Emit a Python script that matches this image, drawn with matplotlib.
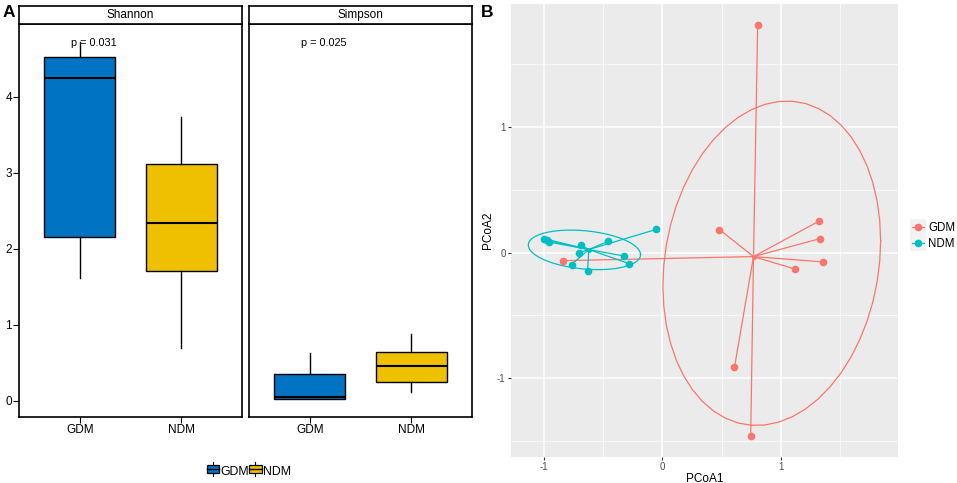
import numpy as np
import matplotlib
matplotlib.use("Agg")
from matplotlib import pyplot as plt
from matplotlib.patches import Rectangle
from matplotlib.lines import Line2D
from matplotlib.legend_handler import HandlerBase, HandlerLine2D

plt.rcParams['font.family'] = ['Liberation Sans', 'DejaVu Sans']
plt.rcParams['axes.unicode_minus'] = False

# ---- panel A data (box stats) ----
groups = ['GDM', 'NDM']
box_colors = ['#0073C2', '#EFC000']
facets = ['Shannon', 'Simpson']
p_labels = ['p = 0.031', 'p = 0.025']
p_label_y = 4.70
# each row: [whislo, q1, med, q3, whishi] for GDM, NDM
shannon_stats = [[1.61, 2.16, 4.25, 4.52, 4.72],
                 [0.70, 1.71, 2.34, 3.12, 3.73]]
simpson_stats = [[0.026, 0.026, 0.044, 0.35, 0.625],
                 [0.12, 0.245, 0.46, 0.647, 0.88]]

# ---- panel B data (PCoA coordinates) ----
pc1_gdm = [0.804, 0.482, 1.317, 1.328, 1.356, 1.115, 0.608, 0.745, -0.835]
pc2_gdm = [1.815, 0.183, 0.249, 0.111, -0.074, -0.130, -0.914, -1.46, -0.064]
pc1_ndm = [-0.997, -0.975, -0.953, -0.681, -0.457, -0.701, -0.323, -0.281, -0.765, -0.630, -0.050]
pc2_ndm = [0.111, 0.098, 0.084, 0.058, 0.090, 0.0, -0.027, -0.087, -0.095, -0.146, 0.185]
pcoa_colors = ['#F8766D', '#00BFC4']
ellipse_level = 0.75


def cov_trob(X, nu=5, maxit=25, tol=0.01):
    '''robust t covariance, same steps as MASS::cov.trob'''
    n, p = X.shape
    wt = np.ones(n)
    loc = X.mean(0)
    w = np.sqrt(wt)
    for _ in range(maxit):
        w0 = w
        Xc = X - loc
        _, d, vt = np.linalg.svd(np.sqrt(w / w.sum())[:, None] * Xc, full_matrices=False)
        wX = Xc @ vt.T @ np.diag(1 / d)
        Q = (wX ** 2).sum(1)
        w = wt * (nu + p) / (nu + Q)
        loc = (w[:, None] * X).sum(0) / w.sum()
        if np.all(np.abs(w - w0) < tol):
            break
    sX = np.sqrt(w)[:, None] * Xc
    return loc, sX.T @ sX / wt.sum()


def ellipse_pts(x, y, level=0.95, segments=51):
    X = np.column_stack([x, y])
    center, shape = cov_trob(X)
    dfd = len(x) - 1
    qf = dfd / 2 * ((1 - level) ** (-2 / dfd) - 1)  # F(2, dfd) quantile
    radius = np.sqrt(2 * qf)
    t = np.linspace(0, 2 * np.pi, segments)
    circ = np.column_stack([np.cos(t), np.sin(t)])
    R = np.linalg.cholesky(shape).T
    return center + radius * circ @ R


class BoxHandler(HandlerBase):
    def create_artists(self, legend, orig, xd, yd, width, height, fontsize, trans):
        wl = Line2D([xd + width / 2] * 2, [yd - 0.2 * height, yd + 1.2 * height],
                    color='black', lw=0.8, transform=trans)
        r = Rectangle((xd, yd + 0.1 * height), width, 0.8 * height,
                      fc=orig.get_facecolor(), ec='black', lw=0.9, transform=trans)
        m = Line2D([xd, xd + width], [yd + 0.5 * height] * 2, color='black', lw=1.0, transform=trans)
        return [wl, r, m]


class KeyHandler(HandlerLine2D):
    def create_artists(self, legend, orig, xd, yd, width, height, fontsize, trans):
        bg = Rectangle((xd - 1, yd - 3), width + 2, height + 6, fc='#F2F2F2', ec='none', transform=trans)
        return [bg] + super().create_artists(legend, orig, xd, yd, width, height, fontsize, trans)


fig = plt.figure(figsize=(9.57, 4.83), dpi=100)

# ---------------- panel A ----------------
all_vals = np.array(shannon_stats + simpson_stats).ravel()
lo, hi = min(all_vals.min(), p_label_y), max(all_vals.max(), p_label_y)
pad = 0.05 * (hi - lo)

lefts = [0.0199, 0.2602]
for i, (name, stats, plab) in enumerate(zip(facets, [shannon_stats, simpson_stats], p_labels)):
    ax = fig.add_axes([lefts[i], 0.1373, 0.2330, 0.8130])
    bxp = [dict(whislo=s[0], q1=s[1], med=s[2], q3=s[3], whishi=s[4], fliers=[]) for s in stats]
    res = ax.bxp(bxp, positions=[1, 2], widths=0.7, patch_artist=True, showcaps=False,
                 boxprops=dict(edgecolor='black', linewidth=1.0),
                 medianprops=dict(color='black', linewidth=1.5),
                 whiskerprops=dict(color='black', linewidth=1.0))
    for b, c in zip(res['boxes'], box_colors):
        b.set_facecolor(c)
    ax.text(0.91, p_label_y, plab, ha='left', va='center', fontsize=7.8)
    ax.set_xlim(0.4, 2.6)
    ax.set_ylim(lo - pad, hi + pad)
    ax.set_xticks([1, 2])
    ax.set_xticklabels(groups)
    for s in ax.spines.values():
        s.set_linewidth(1.2)
    ax.tick_params(axis='both', length=4, width=0.8, colors='black', labelsize=8.5, pad=1.2)
    if i == 0:
        ax.set_yticks([0, 1, 2, 3, 4])
    else:
        ax.set_yticks([])
    # facet strip
    sax = fig.add_axes([lefts[i], 0.9503, 0.2330, 0.0379])
    sax.set_xticks([])
    sax.set_yticks([])
    for s in sax.spines.values():
        s.set_linewidth(1.2)
    sax.text(0.5, 0.5, name, ha='center', va='center', fontsize=8.5, transform=sax.transAxes)

hA = [Rectangle((0, 0), 1, 1, fc=c) for c in box_colors]
fig.legend(hA, groups, loc='center', bbox_to_anchor=(249 / 957, 1 - 471.5 / 483), ncol=2,
           frameon=False, fontsize=8.8, handlelength=1.0, handleheight=0.9, handletextpad=0.15,
           columnspacing=0.0, borderpad=0, handler_map={Rectangle: BoxHandler()})
fig.text(0.003, 0.99, 'A', fontsize=12.5, fontweight='bold', va='top', ha='left')

# ---------------- panel B ----------------
axb = fig.add_axes([0.5336, 0.0545, 0.4050, 0.9373])
axb.set_facecolor('#EBEBEB')
handles = []
for (x, y), col, lab in zip([(pc1_gdm, pc2_gdm), (pc1_ndm, pc2_ndm)], pcoa_colors, groups):
    x = np.asarray(x)
    y = np.asarray(y)
    cx, cy = x.mean(), y.mean()
    for xi, yi in zip(x, y):
        axb.plot([cx, xi], [cy, yi], color=col, lw=0.9, zorder=3)
    e = ellipse_pts(x, y, level=ellipse_level)
    axb.plot(e[:, 0], e[:, 1], color=col, lw=0.9, zorder=3)
    axb.plot(x, y, 'o', color=col, ms=4.5, zorder=4)
    axb.plot([cx], [cy], 'o', color=col, ms=2.5, zorder=4)
    handles.append(Line2D([], [], color=col, lw=0.9, marker='o', ms=4.5))
axb.margins(0.05)
axb.set_xticks([-1, 0, 1])
axb.set_yticks([-1, 0, 1])
axb.set_xticks([-0.5, 0.5, 1.5], minor=True)
axb.set_yticks([-1.5, -0.5, 0.5, 1.5], minor=True)
axb.grid(which='major', color='white', lw=1.1)
axb.grid(which='minor', color='white', lw=0.5)
axb.set_axisbelow(True)
for s in axb.spines.values():
    s.set_visible(False)
axb.tick_params(which='major', length=2.5, width=0.8, colors='#333333', labelcolor='#4D4D4D',
                labelsize=7, pad=1.2)
axb.tick_params(which='minor', length=0)
axb.set_xlabel('PCoA1', fontsize=8.5, labelpad=0.5)
axb.set_ylabel('PCoA2', fontsize=8.5, labelpad=2)
fig.legend(handles, groups, loc='center left', bbox_to_anchor=(906 / 957, 1 - 236 / 483),
           frameon=False, fontsize=8.3, handlelength=1.1, handletextpad=0.35, labelspacing=0.3,
           borderpad=0, handler_map={Line2D: KeyHandler()})
fig.text(0.503, 0.99, 'B', fontsize=12.5, fontweight='bold', va='top', ha='left')

fig.savefig('out.png', dpi=100)
